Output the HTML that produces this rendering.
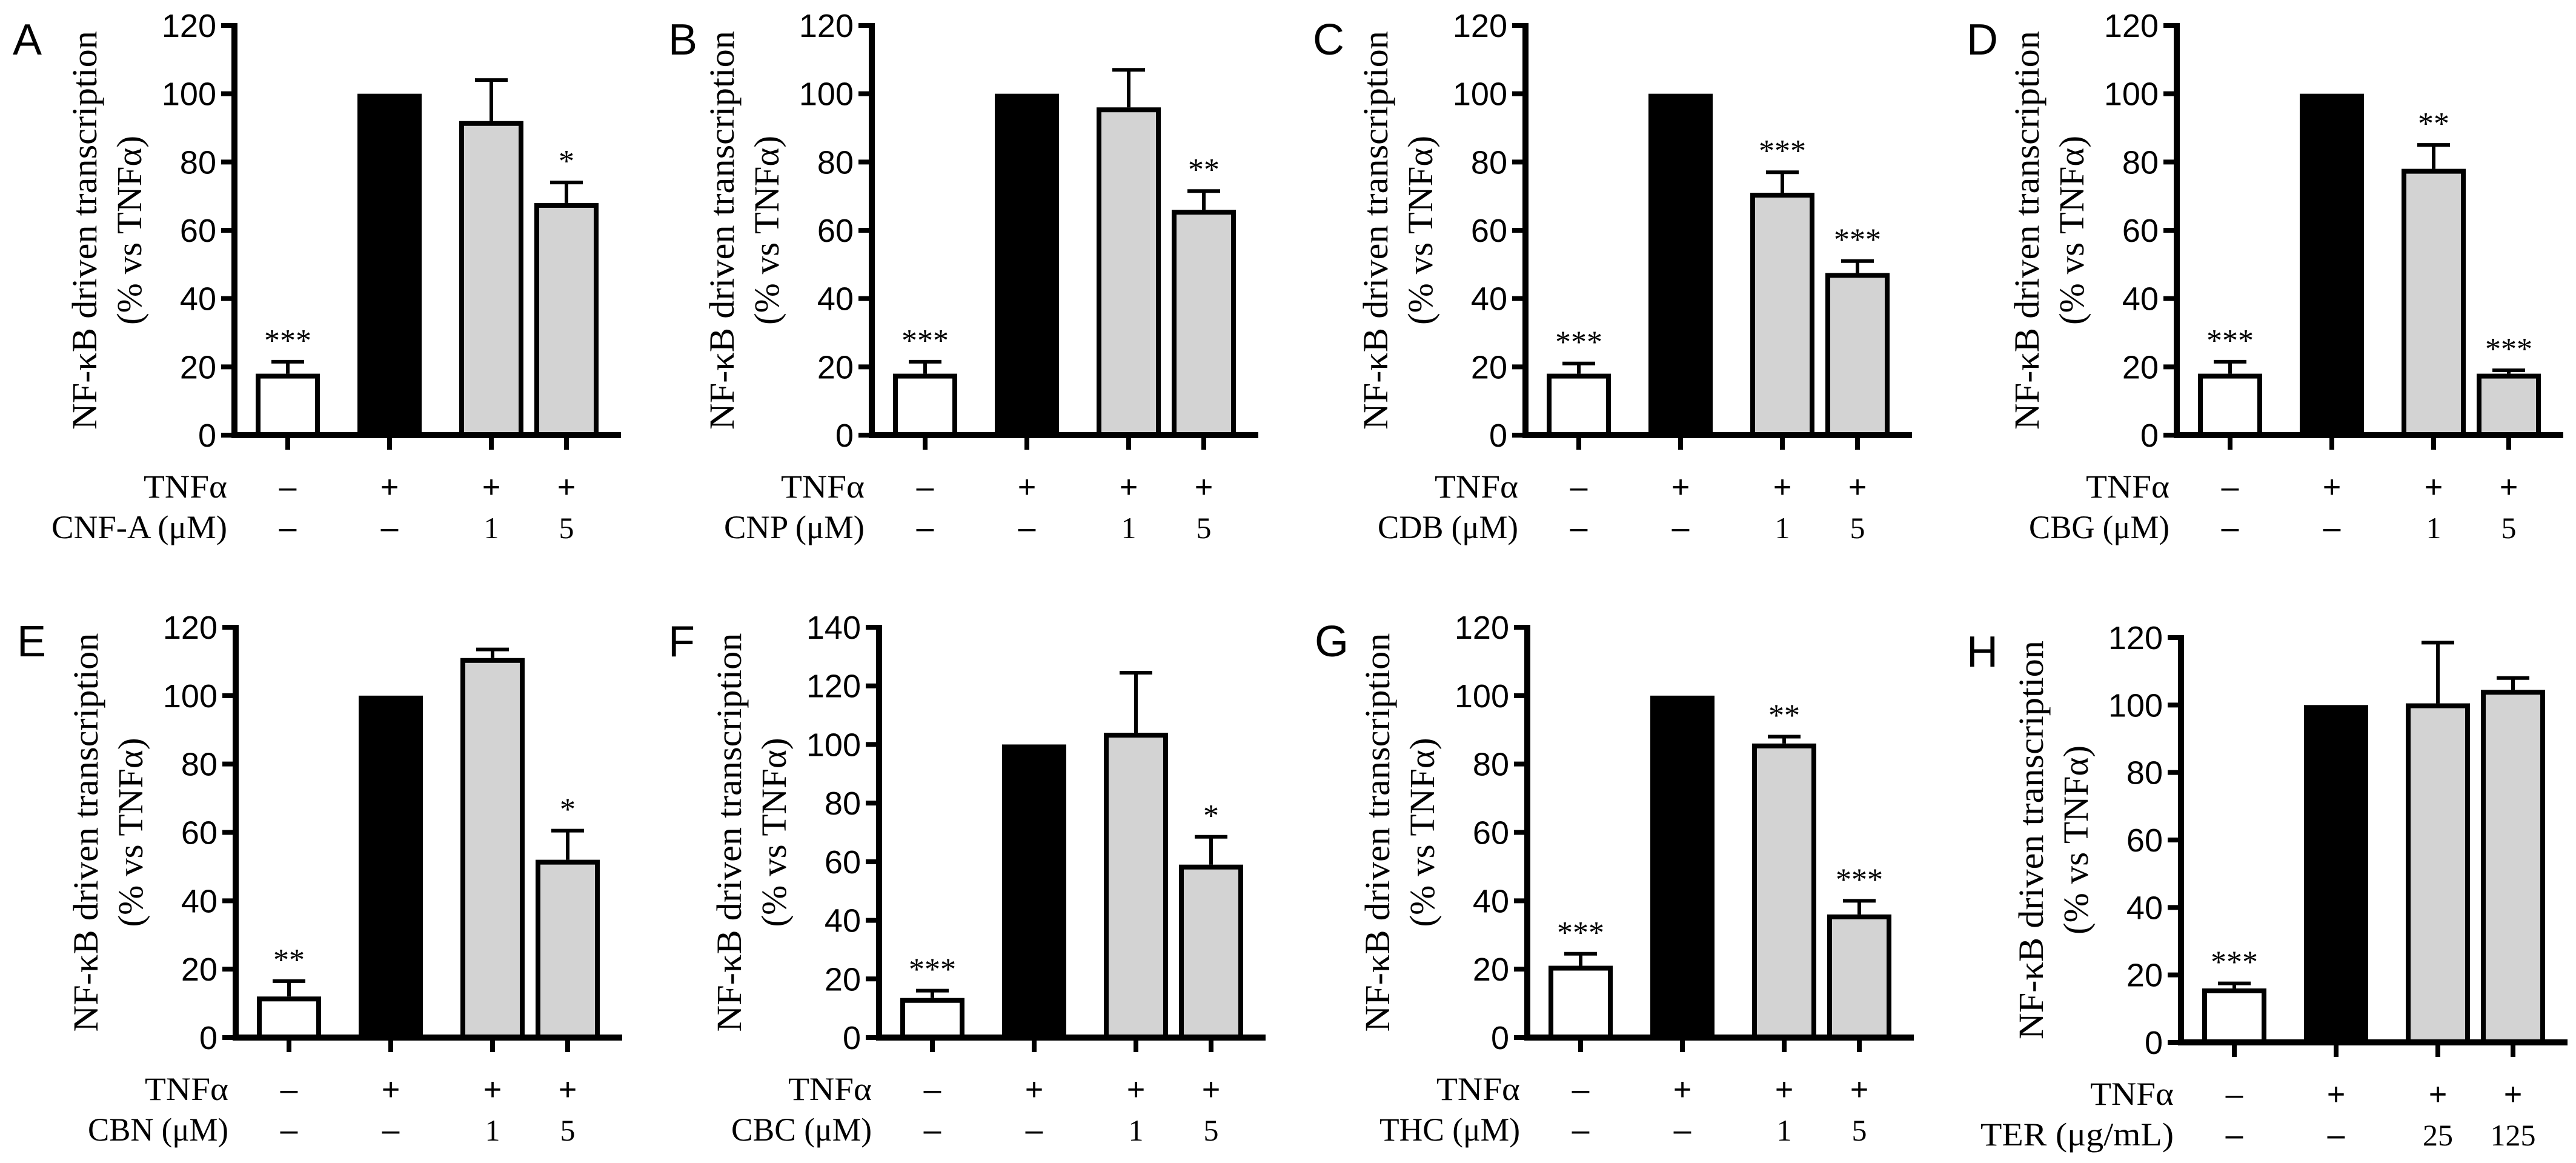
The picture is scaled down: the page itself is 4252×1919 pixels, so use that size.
<!DOCTYPE html>
<html><head><meta charset="utf-8">
<style>
html,body{margin:0;padding:0;background:#fff;}
svg{display:block;}
</style></head>
<body>
<svg id="fig" xmlns="http://www.w3.org/2000/svg" width="4252" height="1919" viewBox="0 0 4252 1919"></svg>
<script>
// ---- data ----
const panelLetters = ["A","B","C","D","E","F","G","H"];
const compoundLabels = ["CNF-A (\u03bcM)","CNP (\u03bcM)","CDB (\u03bcM)","CBG (\u03bcM)","CBN (\u03bcM)","CBC (\u03bcM)","THC (\u03bcM)","TER (\u03bcg/mL)"];
const doseLabelsA = ["\u2013","\u2013","1","5"];
const doseLabelsH = ["\u2013","\u2013","25","125"];
const tnfLabels = ["\u2013","+","+","+"];
const valuesA = [18, 100, 92, 68];
const errorsA = [3.5, 0, 12, 6];
const starsA = ["***","","","*"];
const valuesB = [18, 100, 96, 66];
const errorsB = [3.5, 0, 11, 5.5];
const starsB = ["***","","","**"];
const valuesC = [18, 100, 71, 47.5];
const errorsC = [3, 0, 6, 3.5];
const starsC = ["***","","***","***"];
const valuesD = [18, 100, 78, 18];
const errorsD = [3.5, 0, 7, 1];
const starsD = ["***","","**","***"];
const valuesE = [12, 100, 111, 52];
const errorsE = [4.5, 0, 2.5, 8.5];
const starsE = ["**","","","*"];
const valuesF = [13.5, 100, 104, 59];
const errorsF = [2.5, 0, 20.5, 9.5];
const starsF = ["***","","","*"];
const valuesG = [21, 100, 86, 36];
const errorsG = [3.5, 0, 2, 4];
const starsG = ["***","","**","***"];
const valuesH = [16, 100, 100.5, 104.5];
const errorsH = [1.5, 0, 18, 3.5];
const starsH = ["***","","",""];
const yMaxes = [120,120,120,120,120,140,120,120];
const allValues = [valuesA,valuesB,valuesC,valuesD,valuesE,valuesF,valuesG,valuesH];
const allErrors = [errorsA,errorsB,errorsC,errorsD,errorsE,errorsF,errorsG,errorsH];
const allStars = [starsA,starsB,starsC,starsD,starsE,starsF,starsG,starsH];

// ---- layout ----
const axisX = [387,1439,2518,3593,389,1451,2521,3600];
const letterX = [21,1103,2167,3246,28,1103,2170,3246];
const rowTop = [42,42,42,42,1035,1035,1035,1052];
const rowBot = [718,718,718,718,1712,1712,1712,1720];
const catOff = [88,256,424,548];
const fills = ["#ffffff","#000000","#d3d3d3","#d3d3d3"];
const BW = 106, AXLEN = 638;

const NS = "http://www.w3.org/2000/svg";
const svg = document.getElementById("fig");
function mk(tag, attrs, parent, text){
  const e = document.createElementNS(NS, tag);
  for (const k in attrs) e.setAttribute(k, attrs[k]);
  if (text !== undefined) e.textContent = text;
  (parent||svg).appendChild(e);
  return e;
}
const SANS = "'Liberation Sans', Arial, sans-serif";
const NARROW = "'Liberation Sans Narrow', 'Liberation Sans', Arial, sans-serif";
const SERIF = "'Liberation Serif', 'DejaVu Serif', serif";

for (let p = 0; p < 8; p++) {
  const ax = axisX[p], y0 = rowBot[p], yT = rowTop[p], ymax = yMaxes[p];
  const yS = v => y0 - (v / ymax) * (y0 - yT);
  const g = mk("g", {});
  
  

  const letter = mk("text", {x: letterX[p], y: yT + 48, "font-family": SANS, "font-size": 72, fill:"#000"}, g, panelLetters[p]);
  
  

  // y axis title
  const cy = (yT + y0) / 2;
  const t1 = mk("text", {x: 0, y: 0, transform: `translate(${ax-228},${cy}) rotate(-90)`, "text-anchor":"middle", "font-family": SERIF, "font-size": 58, "font-weight": 500, textLength: 658, lengthAdjust:"spacingAndGlyphs"}, g, "NF-\u03baB driven transcription");
  
  
  const t2 = mk("text", {x: 0, y: 0, transform: `translate(${ax-154},${cy}) rotate(-90)`, "text-anchor":"middle", "font-family": SERIF, "font-size": 58, "font-weight": 500, textLength: 312, lengthAdjust:"spacingAndGlyphs"}, g, "(% vs TNF\u03b1)");
  
  

  // bars
  for (let i = 0; i < 4; i++) {
    const cx = ax + catOff[i];
    const v = allValues[p][i], e = allErrors[p][i];
    if (e > 0) {
      const ln = mk("line", {x1: cx, x2: cx, y1: yS(v), y2: yS(v+e), stroke:"#000", "stroke-width": 6}, g);
      
      
      const cap = mk("line", {x1: cx-27, x2: cx+27, y1: yS(v+e), y2: yS(v+e), stroke:"#000", "stroke-width": 6}, g);
      
      
    }
    const r = mk("rect", {x: cx - BW/2 + 4, y: yS(v) + 4, width: BW - 8, height: Math.max(0, y0 - yS(v) - 4), fill: fills[i], stroke:"#000", "stroke-width": 8}, g);
    
    
    const s = allStars[p][i];
    if (s) {
      const st = mk("text", {x: cx, y: yS(v+e) - 18, "text-anchor":"middle", "font-family": SERIF, "font-size": 52}, g, s);
      
      
    }
    const xt = mk("line", {x1: cx, x2: cx, y1: y0, y2: y0 + 24, stroke:"#000", "stroke-width": 8}, g);
    
    
    const tl = mk("text", {x: cx, y: y0 + 103, "text-anchor":"middle", "font-family": SANS, "font-size": 52}, g, tnfLabels[i]);
    
    
    const dl = (p === 7 ? doseLabelsH : doseLabelsA)[i];
    const dt = mk("text", {x: cx, y: y0 + 170, "text-anchor":"middle", "font-family": (dl==="\u2013") ? SANS : SERIF, "font-size": (dl==="\u2013")?52:50}, g, dl);
    
    
  }

  // axes
  const ya = mk("line", {x1: ax, x2: ax, y1: yT - 4, y2: y0 + 4, stroke:"#000", "stroke-width": 10}, g);
  
  
  const xa = mk("line", {x1: ax - 5, x2: ax + AXLEN, y1: y0, y2: y0, stroke:"#000", "stroke-width": 10}, g);
  
  
  for (let v = 0; v <= ymax; v += 20) {
    const tk = mk("line", {x1: ax - 22, x2: ax, y1: yS(v), y2: yS(v), stroke:"#000", "stroke-width": 8}, g);
    
    
    const tx = mk("text", {x: ax - 30, y: yS(v) + 19, "text-anchor":"end", "font-family": NARROW, "font-size": 54}, g, String(v));
    
    
  }

  // row labels
  const r1 = mk("text", {x: ax - 12, y: y0 + 103, "text-anchor":"end", "font-family": SERIF, "font-size": 54, textLength: 138, lengthAdjust:"spacingAndGlyphs"}, g, "TNF\u03b1");
  
  
  const lab = compoundLabels[p];
  const r2 = mk("text", {x: ax - 12, y: y0 + 170, "text-anchor":"end", "font-family": SERIF, "font-size": 54, textLength: Math.round(lab.length * 29), lengthAdjust:"spacingAndGlyphs"}, g, lab);
  
  
}
</script>
</body></html>
